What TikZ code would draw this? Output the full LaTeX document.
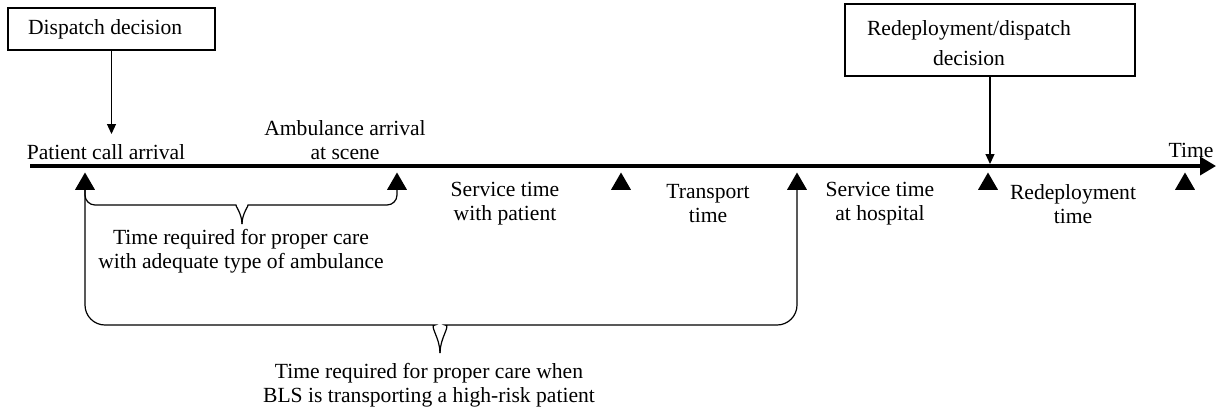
\documentclass[tikz,border=0pt]{standalone}
\usepackage{fontspec}
\setmainfont{Liberation Serif}
\usepackage{tikz}
\usetikzlibrary{calc}
\usetikzlibrary{arrows.meta}
\usetikzlibrary{shapes.geometric}
\tikzset{
	event/.style={regular polygon, regular polygon sides=3, fill=black,
		inner sep=0pt, minimum size=11.5pt},
	decision/.style={draw, line width=0.6pt, inner sep=0pt},
	lbl/.style={align=center, font=\fontsize{10.8}{12}\selectfont},
	push/.style={line width=0.6pt, -{Triangle[length=5pt,width=4.5pt]}},
	brace/.style={line width=0.6pt}
}
\newcommand{\drawtimebrace}[7]{   % left, right, bar y, tip x, tip y, half width, corner
	\draw[brace, rounded corners=#7] (#1.south) |- ($(#4,#3)+(-#6,0)$)
		[sharp corners] .. controls ($(#4,#3)+(-0.45*#6,0)$) and (#4,{#5-0.55*(#5-#3)}) .. (#4,#5);
	\draw[brace, rounded corners=#7] (#2.south) |- ($(#4,#3)+(#6,0)$)
		[sharp corners] .. controls ($(#4,#3)+(0.45*#6,0)$) and (#4,{#5-0.55*(#5-#3)}) .. (#4,#5);
}

\begin{document}
\begin{tikzpicture}[x=0.5pt, y=-0.5pt]
\useasboundingbox (0,0) rectangle (1219,413);

% time line
\coordinate (start) at (30,166);
\coordinate (finish) at (1216,166);
\draw[line width=1.8pt, -{Triangle[length=8pt,width=9pt]}] (start) -- (finish);
\node[lbl] (time) at (1191,150) {Time};

% events below the line
\foreach \n/\x in {1/85, 2/397, 3/621, 4/797, 5/988, 6/1185}
{
	\node[event] (e\n) at (\x,184) {};
}

% decisions
\node[decision, minimum width=103.5pt, minimum height=21pt] (dispatch) at (111.5,29) {};
\node[lbl, anchor=west] (dispatchtxt) at (21,29) {Dispatch decision};
\coordinate (hit1) at (111.5,134);
\draw[push] (dispatch.south) -- (hit1);

\node[decision, minimum width=145pt, minimum height=36pt] (redeploy) at (990,40) {};
\node[lbl, font=\fontsize{10.8}{15}\selectfont] (redeploytxt) at (969,43) {Redeployment/dispatch\\decision};
\coordinate (hit5) at (990,164);
\draw[push] (redeploy.south) -- (hit5);

% labels on the line
\node[lbl] (callarr) at (106,152) {Patient call arrival};
\node[lbl] (ambarr) at (345,140) {Ambulance arrival\\at scene};
\node[lbl] (servpat) at (505,204) {Service time\\with patient};
\node[lbl] (transp) at (708,204) {Transport\\time};
\node[lbl] (servhosp) at (880,204) {Service time\\at hospital};
\node[lbl] (redtime) at (1073,204) {Redeployment\\time};

% braces
\drawtimebrace{e1}{e2}{205}{242}{224}{16}{5pt}
\node[lbl] (adequate) at (241,251) {Time required for proper care\\with adequate type of ambulance};
\drawtimebrace{e1}{e4}{325}{440}{353}{25}{10pt}
\node[lbl] (highrisk) at (429,385) {Time required for proper care when\\BLS is transporting a high-risk patient};

\end{tikzpicture}
\end{document}
